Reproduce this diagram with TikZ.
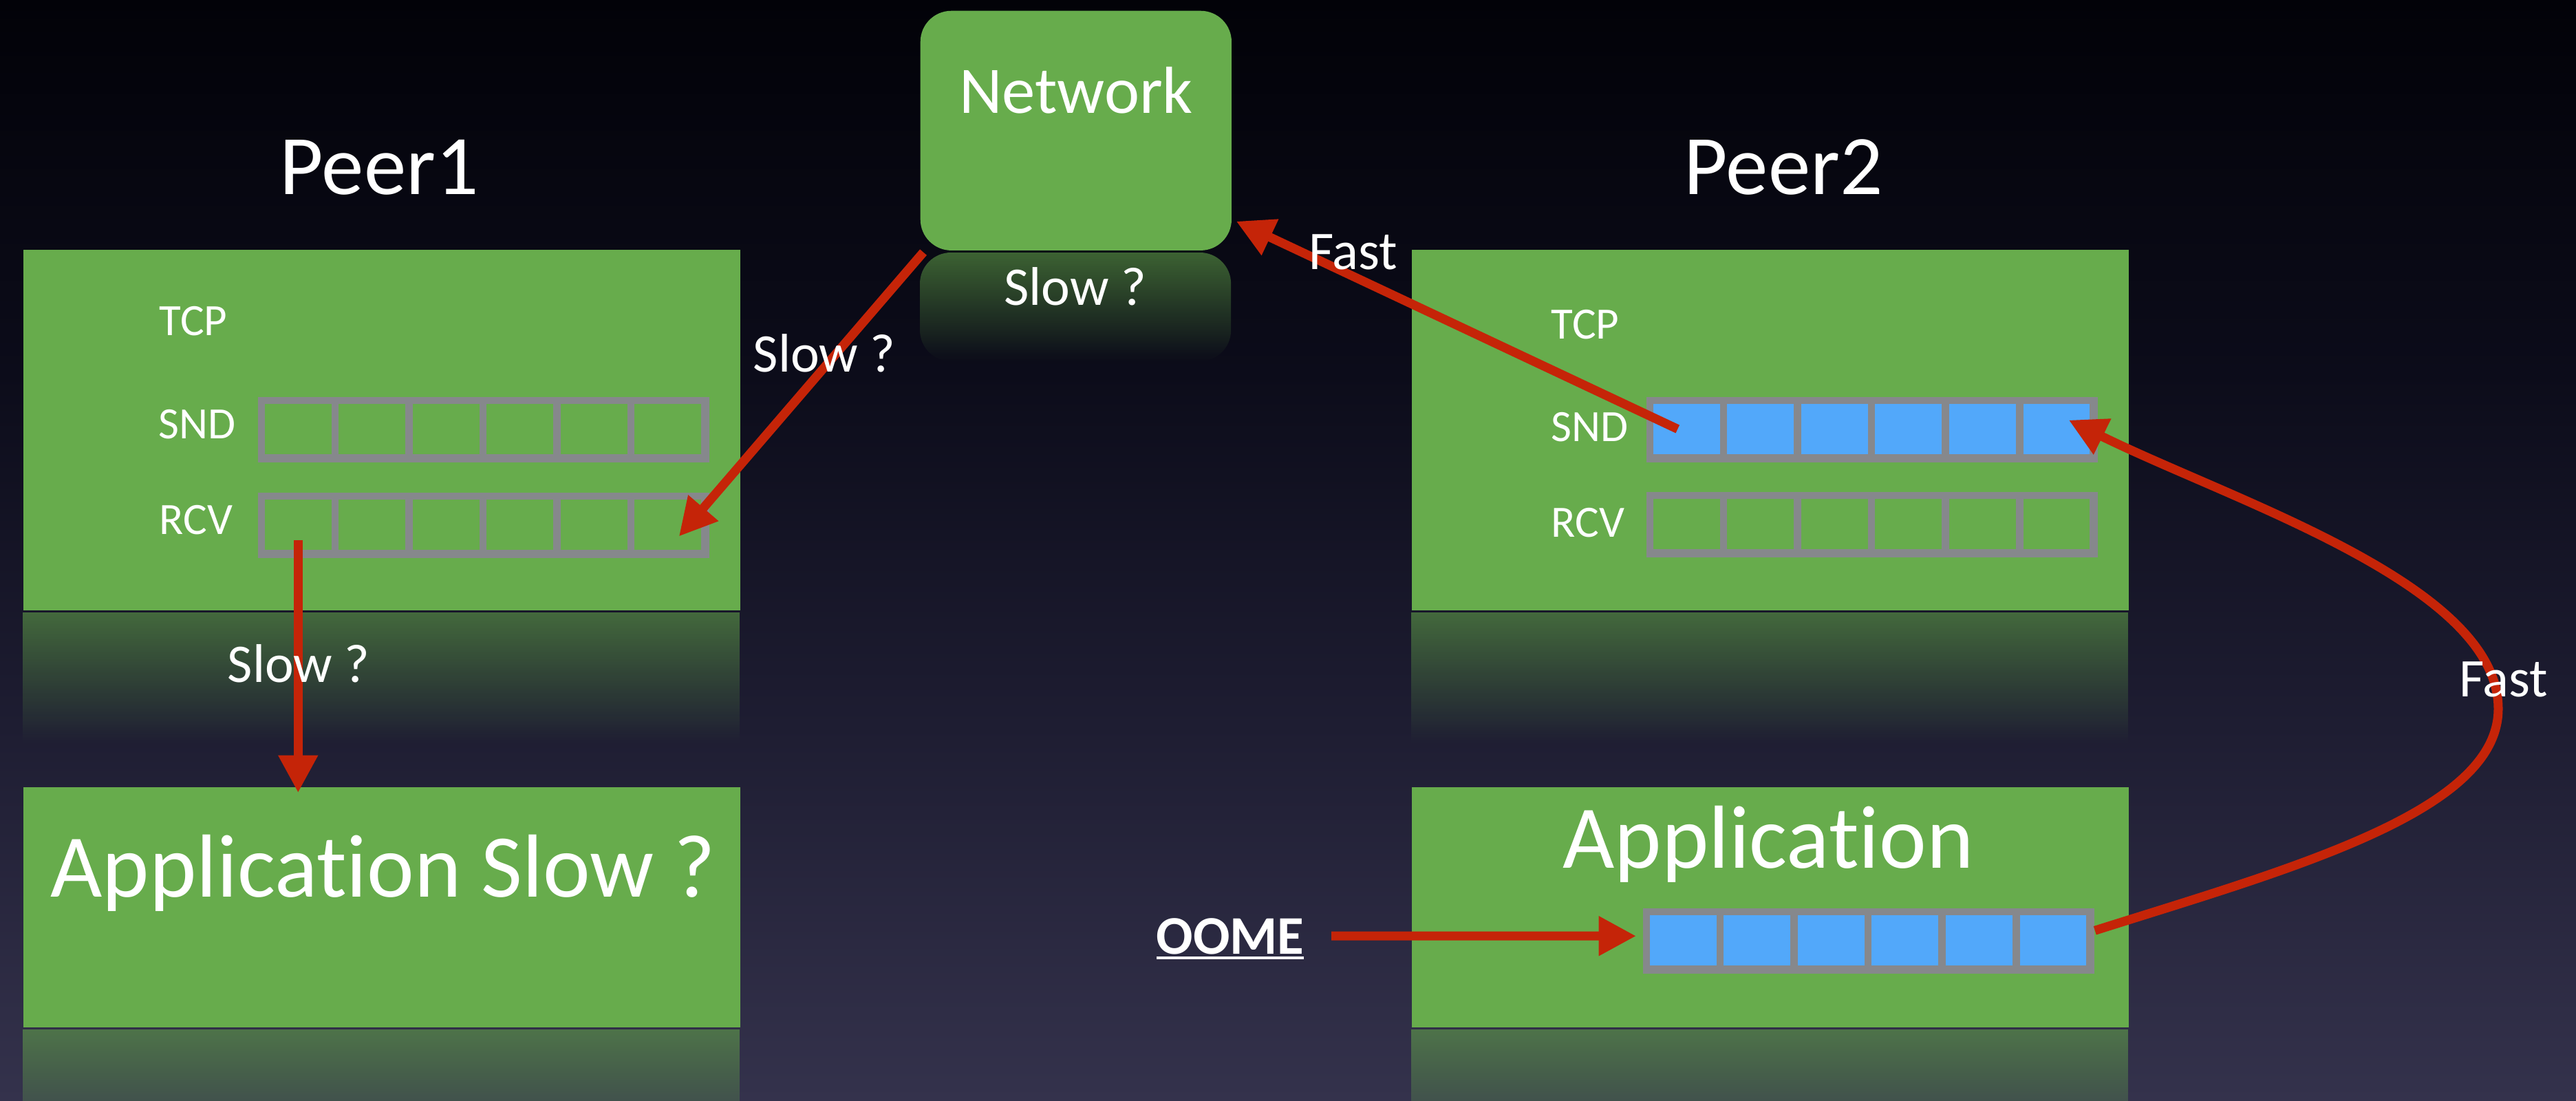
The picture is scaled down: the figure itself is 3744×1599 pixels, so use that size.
\documentclass[tikz,border=0pt]{standalone}
\usepackage{fontspec}
\setmainfont{Carlito}[Ligatures=NoCommon]
\usetikzlibrary{calc,arrows.meta,fadings}
\definecolor{boxgreen}{RGB}{103,172,76}
\definecolor{cellblue}{RGB}{82,168,250}
\definecolor{bufgray}{RGB}{134,136,140}
\definecolor{arrowred}{RGB}{197,36,8}
\definecolor{bgtop}{RGB}{2,2,8}
\definecolor{bgmidA}{RGB}{12,12,26}
\definecolor{bgmidB}{RGB}{30,29,50}
\definecolor{bgbot}{RGB}{52,50,76}
\pgfdeclareverticalshading{bgshade}{100bp}{color(0bp)=(bgbot); color(25bp)=(bgbot); color(42bp)=(bgmidB); color(58bp)=(bgmidA); color(75bp)=(bgtop); color(100bp)=(bgtop)}
\tikzfading[name=reflfade, top color=transparent!45, bottom color=transparent!100]
\newcommand{\makebuf}[4]{%
  \node[bufouter] (#1) at (#2,#3) {};
  \foreach \k in {1,...,6}{
    \node[bufcell, fill=#4] (#1\k) at ($(#1.north west)+({59.25+(\k-1)*107.5},47.5)$) {};
  }
}
\begin{document}
\begin{tikzpicture}[x=0.01cm,y=-0.01cm,
  box/.style={fill=boxgreen, draw=none, inner sep=0, anchor=north west},
  bufouter/.style={fill=bufgray, draw=none, inner sep=0, minimum width=6.56cm, minimum height=0.95cm, anchor=north west},
  bufcell/.style={draw=none, inner sep=0, minimum width=0.965cm, minimum height=0.73cm},
  lbl/.style={text=white, inner sep=0, font=\fontsize{18.5}{20}\selectfont, anchor=base west},
  mid/.style={text=white, inner sep=0, font=\fontsize{22.5}{24}\selectfont},
  big/.style={text=white, inner sep=0, font=\fontsize{37}{40}\selectfont, anchor=base},
  flow/.style={draw=arrowred, line width=3.7pt, -{Triangle[length=15.5pt,width=15.5pt]}},
  refl/.style={fill=boxgreen, path fading=reflfade}]
\shade[shading=bgshade] (0,0) rectangle (3744,1599);
\useasboundingbox (0,0) rectangle (3744,1599);
% reflections
\fill[refl] (33,890) rectangle (1075,1080);
\fill[refl] (2051,890) rectangle (3093,1080);
\fill[refl] (33,1496) rectangle (1075,1696);
\fill[refl] (2051,1496) rectangle (3093,1696);
\fill[refl, rounded corners=0.45cm] (1337,525) -- (1337,367) -- (1789,367) -- (1789,525) -- cycle;
% boxes
\node[box, minimum width=10.42cm, minimum height=5.24cm] (p1tcp) at (33,362) {};
\node[box, minimum width=10.42cm, minimum height=3.49cm] (p1app) at (33,1143) {};
\node[box, minimum width=10.42cm, minimum height=5.24cm] (p2tcp) at (2051,362) {};
\node[box, minimum width=10.42cm, minimum height=3.49cm] (p2app) at (2051,1143) {};
\node[box, rounded corners=0.45cm, minimum width=4.52cm, minimum height=3.48cm] (net) at (1337,15) {};
% buffers
\makebuf{p1snd}{374}{576}{boxgreen}
\makebuf{p1rcv}{374}{715}{boxgreen}
\makebuf{p2snd}{2392}{576}{cellblue}
\makebuf{p2rcv}{2392}{714}{boxgreen}
\makebuf{p2ab}{2387}{1319}{cellblue}
% labels in boxes
\node[lbl] (p1tcpl) at (231,487) {TCP};
\node[lbl] (p1sndl) at (230,637) {SND};
\node[lbl] (p1rcvl) at (231,776) {RCV};
\node[lbl] (p2tcpl) at (2254,492) {TCP};
\node[lbl] (p2sndl) at (2254,641) {SND};
\node[lbl] (p2rcvl) at (2254,780) {RCV};
% arrows
\coordinate (oomeout) at (1935,1360);
\draw[flow] ($(net.south west)+(5,2)$) -- ($(p1rcv6.center)+(16,17)$);
\draw[flow] ($(p1rcv1.center)+(0,22)$) -- ($(p1rcv1.center |- p1app.north)+(0,9)$);
\draw[flow] ($(p2snd1.center)+(-13,0)$) -- ($(net.south east)+(6,-43)$);
\draw[flow] ($(p2ab.east)+(0,-15)$) .. controls (3330,1262) and (3631,1180) .. (3631,1030)
  .. controls (3631,850) and (3250,730) .. ($(p2snd6.center)+(18,-13)$);
\draw[flow] (oomeout) -- ($(p2ab.west)+(-9,-7)$);
% titles and labels
\node[big, font=\fontsize{35}{38}\selectfont] (peer1) at (551,282) {Peer1};
\node[big, font=\fontsize{35}{38}\selectfont] (peer2) at (2592,282) {Peer2};
\node[big, font=\fontsize{27.5}{30}\selectfont] (nettxt) at (1564,164) {Network};
\node[mid, anchor=base] (netslow) at (1563,443) {Slow ?};
\node[mid, anchor=base west] (slow1) at (1094,540) {Slow ?};
\node[mid, anchor=base west] (fast1) at (1902,391) {Fast};
\node[mid, anchor=base west] (fast2) at (3574,1012) {Fast};
\node[mid, anchor=base west] (slow2) at (330,991) {Slow ?};
\node[big] (app1txt) at (557,1303) {Application Slow ?};
\node[big] (app2txt) at (2570,1261) {Application};
\node[text=white, inner sep=0, anchor=base west, font=\bfseries\fontsize{22.5}{24}\selectfont] (oome) at (1680,1386) {\setbox0\hbox{OOME}\rlap{\rule[-2.2pt]{\wd0}{1.1pt}}\box0};
\end{tikzpicture}
\end{document}
